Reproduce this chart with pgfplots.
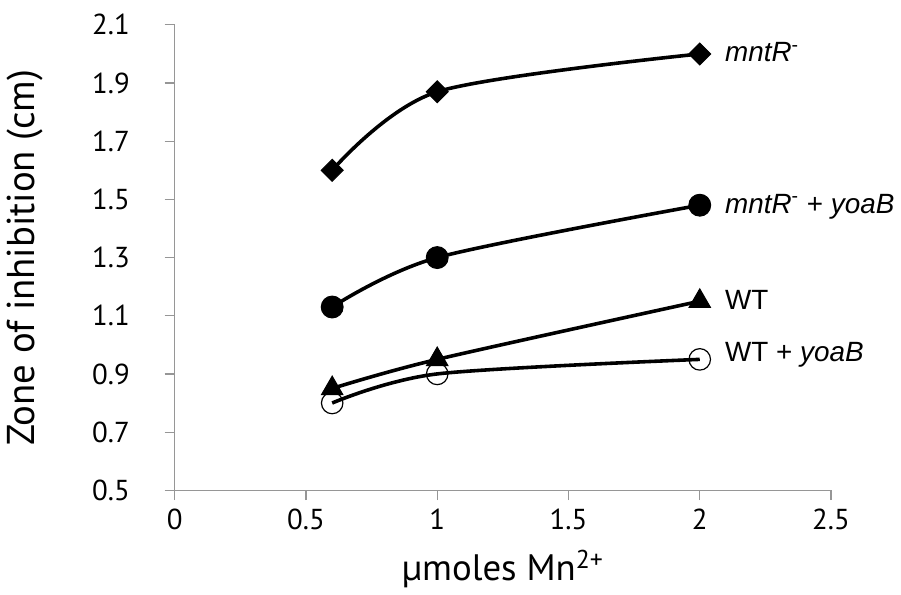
\documentclass[border=0pt]{standalone}
\usepackage{fontspec}
\setmainfont{PT Sans}
\newfontfamily\arial{Liberation Sans}
\usepackage{pgfplots}
\pgfplotsset{compat=1.18}
\definecolor{axgray}{RGB}{150,150,150}
\begin{document}
\begin{tikzpicture}
\begin{axis}[
  name=main,
  scale only axis,
  width=330pt, height=234pt,
  xmin=0, xmax=2.5, ymin=0.5, ymax=2.1,
  xtick={0,0.5,1,1.5,2,2.5},
  ytick={0.5,0.7,0.9,1.1,1.3,1.5,1.7,1.9,2.1},
  yticklabel style={/pgf/number format/fixed,/pgf/number format/precision=1,/pgf/number format/fixed zerofill, xshift=-14pt},
  xticklabel style={yshift=-1pt},
  /pgf/number format/assume math mode=true,
  axis lines*=left,
  axis line style={axgray, line width=0.6pt, -},
  tick style={axgray, line width=0.6pt},
  tick align=outside,
  major tick length=5pt,
  ticklabel style={font=\fontsize{14.5}{17}\selectfont, black},
  xlabel={µmoles Mn\textsuperscript{2+}},
  ylabel={Zone of inhibition (cm)},
  xlabel style={font=\fontsize{18.5}{21}\selectfont, yshift=-3pt},
  ylabel style={font=\fontsize{19.5}{22}\selectfont, yshift=18pt},
  clip=false,
  every axis plot/.append style={black, line width=1.8pt, smooth},
]
\addplot[mark=square*, mark size=3.9pt, mark options={rotate=45, solid, line width=0.5pt}] coordinates {(0.6,1.60) (1,1.87) (2,2.00)};
\addplot[mark=*, mark size=5.5pt, mark options={line width=0.5pt}] coordinates {(0.6,1.13) (1,1.30) (2,1.48)};
\addplot[mark=triangle*, mark size=6.2pt, mark options={line width=0.5pt}] coordinates {(0.6,0.85) (1,0.95) (2,1.15)};
\addplot[mark=o, mark size=5.4pt, mark options={line width=0.6pt}] coordinates {(0.6,0.80) (1,0.90) (2,0.95)};
\node[anchor=west, font=\arial\fontsize{14}{16}\selectfont] at (axis cs:2.07,2.005) {\textit{mntR}\textsuperscript{-}};
\node[anchor=west, font=\arial\fontsize{14}{16}\selectfont] at (axis cs:2.07,1.475) {\textit{mntR}\textsuperscript{-}\ + \textit{yoaB}};
\node[anchor=west, font=\arial\fontsize{14}{16}\selectfont] at (axis cs:2.07,1.155) {WT};
\node[anchor=west, font=\arial\fontsize{14}{16}\selectfont] at (axis cs:2.07,0.965) {WT + \textit{yoaB}};
\coordinate (topleft) at (rel axis cs:0,1);
\end{axis}
\path (topleft) -- ++(0,12.5pt);
\end{tikzpicture}
\end{document}
